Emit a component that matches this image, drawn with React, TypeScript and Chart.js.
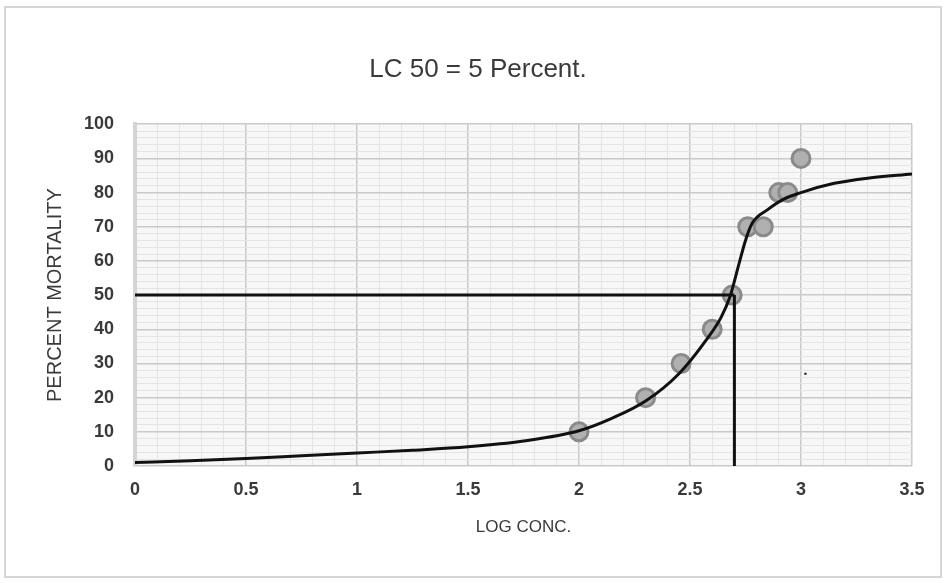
import React, { useEffect, useRef } from 'react';
import { Chart, registerables } from 'chart.js';

Chart.register(...registerables);

const titleText = 'LC 50 = 5 Percent.';
const xTitle = 'LOG CONC.';
const yTitle = 'PERCENT MORTALITY';

const xTickLabels = ['0', '0.5', '1', '1.5', '2', '2.5', '3', '3.5'];
const yTickLabels = ['0', '10', '20', '30', '40', '50', '60', '70', '80', '90', '100'];

// observed mortality points
const obsX = [2.0, 2.3, 2.46, 2.6, 2.69, 2.76, 2.83, 2.9, 2.94, 3.0];
const obsY = [10, 20, 30, 40, 50, 70, 70, 80, 80, 90];

// fitted curve
const curveX = [0, 0.25, 0.5, 0.75, 1.0, 1.25, 1.5, 1.75, 2.0, 2.15, 2.3, 2.45, 2.58, 2.64, 2.68, 2.72, 2.75, 2.78, 2.85, 2.92, 3.0, 3.15, 3.3, 3.5];
const curveY = [1, 1.5, 2.2, 3, 3.8, 4.6, 5.6, 7.3, 10.3, 14, 19, 27, 37.5, 43.5, 49.5, 59, 66, 71, 75, 78, 80, 82.7, 84.2, 85.4];

// LC50 reference lines
const lc50X = 2.7;
const lc50Y = 50;

// stray mark
const strayX = [3.02];
const strayY = [27];

const FONT = "'Liberation Sans', Arial, sans-serif";
const TEXT = '#3a3a3a';

export default function App() {
  const ref = useRef<HTMLCanvasElement | null>(null);

  useEffect(() => {
    if (!ref.current) return;
    const bgPlugin = {
      id: 'bg',
      beforeDraw(chart: any) {
        const { ctx, chartArea } = chart;
        ctx.save();
        ctx.fillStyle = '#ffffff';
        ctx.fillRect(0, 0, chart.width, chart.height);
        ctx.strokeStyle = '#d6d6d6';
        ctx.lineWidth = 2;
        ctx.strokeRect(5, 7, 936, 570);
        ctx.fillStyle = '#f7f7f7';
        ctx.fillRect(chartArea.left, chartArea.top, chartArea.right - chartArea.left, chartArea.bottom - chartArea.top);
        ctx.restore();
      },
    };

    const chart = new Chart(ref.current, {
      type: 'scatter',
      data: {
        datasets: [
          {
            data: curveX.map((x, i) => ({ x, y: curveY[i] })),
            showLine: true,
            borderColor: '#111111',
            borderWidth: 3,
            pointRadius: 0,
            cubicInterpolationMode: 'monotone',
          },
          {
            data: [{ x: 0, y: lc50Y }, { x: lc50X, y: lc50Y }],
            showLine: true,
            borderColor: '#111111',
            borderWidth: 3,
            pointRadius: 0,
          },
          {
            data: [{ x: lc50X, y: lc50Y }, { x: lc50X, y: 0 }],
            showLine: true,
            borderColor: '#111111',
            borderWidth: 3,
            pointRadius: 0,
            clip: false,
          },
          {
            data: strayX.map((x, i) => ({ x, y: strayY[i] })),
            pointStyle: 'rect',
            pointRadius: 1.5,
            backgroundColor: '#111111',
            borderColor: '#111111',
            borderWidth: 0,
          },
          {
            data: obsX.map((x, i) => ({ x, y: obsY[i] })),
            pointRadius: 9,
            backgroundColor: '#b0b0b0',
            borderColor: '#8a8a8a',
            borderWidth: 3,
          },
        ],
      } as any,
      options: {
        responsive: false,
        animation: false,
        layout: { padding: { left: 10, right: 1, top: 0, bottom: 0 } },
        plugins: {
          legend: { display: false },
          tooltip: { enabled: false },
          title: {
            display: true,
            text: titleText,
            color: TEXT,
            font: { family: FONT, size: 26, weight: 'normal' },
            padding: { top: 54, bottom: 39 },
          },
        },
        scales: {
          x: {
            type: 'linear',
            min: 0,
            max: 3.5,
            afterFit(scale: any) {
              scale.height = 117;
            },
            ticks: {
              stepSize: 0.1,
              autoSkip: false,
              maxRotation: 0,
              padding: 13,
              color: TEXT,
              font: { family: FONT, size: 18, weight: 'bold' },
              callback: (value: any) => {
                const v = Math.round(Number(value) * 10);
                return v % 5 === 0 ? xTickLabels[v / 5] : '';
              },
            },
            grid: {
              drawTicks: false,
              color: (ctx: any) => {
                const v = Math.round(ctx.tick.value * 10);
                return v % 5 === 0 ? '#c9c9c9' : '#e4e4e4';
              },
              lineWidth: (ctx: any) => {
                const v = Math.round(ctx.tick.value * 10);
                return v % 5 === 0 ? 1.5 : 1;
              },
            },
            border: { display: false },
            title: {
              display: true,
              text: xTitle,
              color: TEXT,
              font: { family: FONT, size: 17 },
              padding: { top: 0, bottom: 45 },
            },
          },
          y: {
            type: 'linear',
            min: 0,
            max: 100,
            afterFit(scale: any) {
              scale.width = 125;
            },
            ticks: {
              stepSize: 2,
              autoSkip: false,
              padding: 21,
              color: TEXT,
              font: { family: FONT, size: 18, weight: 'bold' },
              callback: (value: any) => {
                const v = Math.round(Number(value));
                return v % 10 === 0 ? yTickLabels[v / 10] : '';
              },
            },
            grid: {
              drawTicks: false,
              color: (ctx: any) => (Math.round(ctx.tick.value) % 10 === 0 ? '#c9c9c9' : '#e4e4e4'),
              lineWidth: (ctx: any) => (Math.round(ctx.tick.value) % 10 === 0 ? 1.5 : 1),
            },
            border: { display: true, color: '#d4d4d4', width: 4 },
            title: {
              display: true,
              text: yTitle,
              color: TEXT,
              font: { family: FONT, size: 20 },
              padding: { top: 33, bottom: 0 },
            },
          },
          yRight: {
            type: 'linear',
            position: 'right',
            display: true,
            min: 0,
            max: 100,
            afterFit(scale: any) {
              scale.width = 34;
            },
            ticks: { display: false },
            grid: { display: false, drawTicks: false },
            border: { display: false },
          },
        },
      } as any,
      plugins: [bgPlugin],
    });
    return () => chart.destroy();
  }, []);

  return (
    <div style={{ position: 'fixed', left: 0, top: 0, width: 947, height: 583, background: '#fff' }}>
      <canvas ref={ref} width={947} height={583} style={{ width: 947, height: 583, display: 'block' }} />
    </div>
  );
}
